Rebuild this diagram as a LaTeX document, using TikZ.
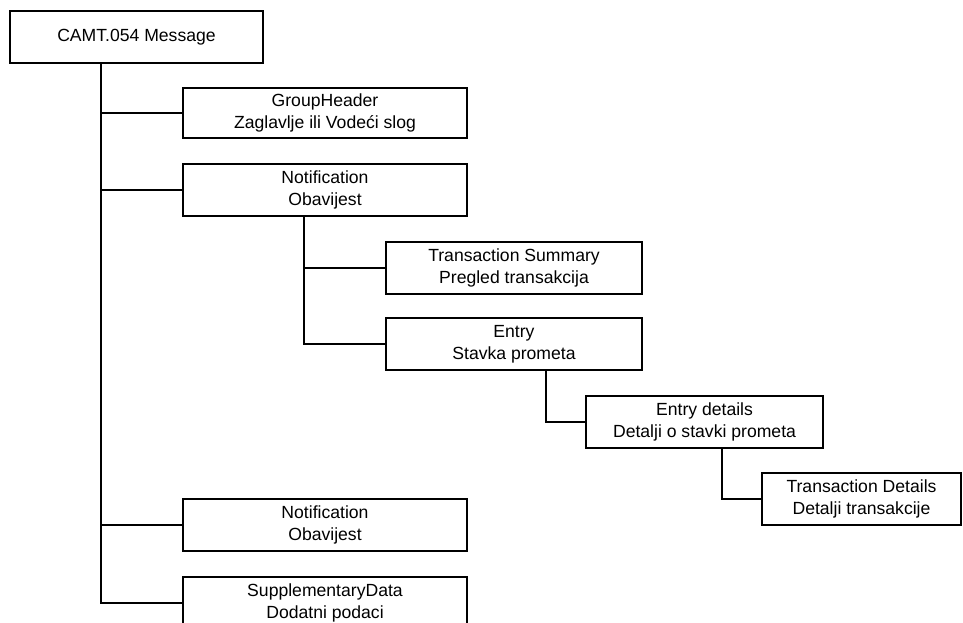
\documentclass[tikz,border=0pt]{standalone}
\usepackage{fontspec}
\setmainfont{Liberation Sans}
\begin{document}
\begin{tikzpicture}[x=1pt,y=-1pt,
  box/.style={draw,line width=1.6pt,inner sep=0pt,align=center,
    font=\fontsize{17.6}{22}\selectfont},
  conn/.style={line width=1.6pt}]
\useasboundingbox (0,0) rectangle (963,623);
\clip (0,0) rectangle (963,623);
\node[box,minimum width=253pt,minimum height=52pt] (root) at (136.5,37) {CAMT.054 Message};
\node[box,minimum width=284pt,minimum height=50pt] (gh) at (325,113) {GroupHeader\\Zaglavlje ili Vodeći slog};
\node[box,minimum width=284pt,minimum height=52pt] (n1) at (325,190) {Notification\\Obavijest};
\node[box,minimum width=256pt,minimum height=52pt] (ts) at (514,268) {Transaction Summary\\Pregled transakcija};
\node[box,minimum width=256pt,minimum height=52pt] (en) at (514,344) {Entry\\Stavka prometa};
\node[box,minimum width=237pt,minimum height=52pt] (ed) at (704.5,422) {Entry details\\Detalji o stavki prometa};
\node[box,minimum width=199pt,minimum height=52pt] (td) at (861.5,499) {Transaction Details\\Detalji transakcije};
\node[box,minimum width=284pt,minimum height=52pt] (n2) at (325,525) {Notification\\Obavijest};
\node[box,minimum width=284pt,minimum height=52pt] (sd) at (325,603) {SupplementaryData\\Dodatni podaci};
\draw[conn] ([xshift=92pt]root.south west) |- (gh.west);
\draw[conn] ([xshift=92pt]root.south west) |- (n1.west);
\draw[conn] ([xshift=92pt]root.south west) |- (n2.west);
\draw[conn] ([xshift=92pt]root.south west) |- (sd.west);
\draw[conn] ([xshift=122pt]n1.south west) |- (ts.west);
\draw[conn] ([xshift=122pt]n1.south west) |- (en.west);
\draw[conn] ([xshift=161pt]en.south west) |- (ed.west);
\draw[conn] ([xshift=137pt]ed.south west) |- (td.west);
\end{tikzpicture}
\end{document}
